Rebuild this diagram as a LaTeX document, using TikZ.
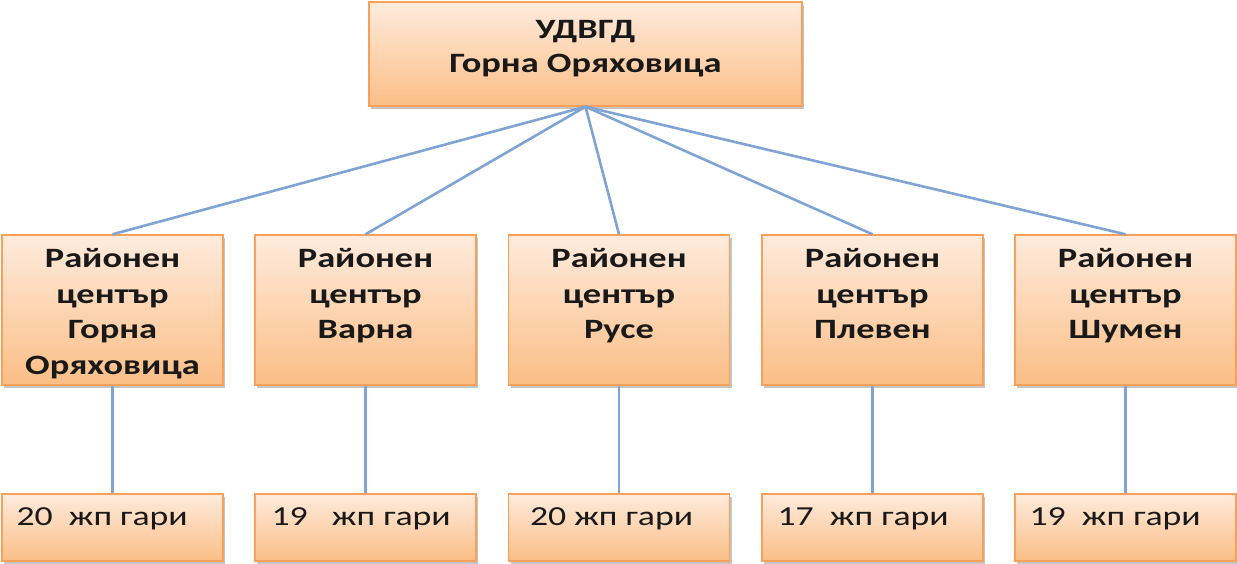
\documentclass[tikz,border=0pt]{standalone}
\usepackage{fontspec}
\setmainfont{Carlito}
\newfontfamily\cfont[FakeStretch=1.3]{Carlito}
\usetikzlibrary{shadows}
\definecolor{ptop}{HTML}{FEEBDD}
\definecolor{pbot}{HTML}{FBBE86}
\definecolor{pedge}{HTML}{F7A05A}
\definecolor{linkc}{HTML}{7FA3D3}
\begin{document}
\begin{tikzpicture}[x=1pt,y=-1pt,
  box/.style={draw=pedge, line width=1.4pt, top color=ptop, bottom color=pbot,
    inner sep=0pt, minimum width=221pt,
    drop shadow={shadow xshift=2pt, shadow yshift=-2.5pt, fill=black!45, opacity=0.5}},
  midbox/.style={box, minimum height=150pt},
  botbox/.style={box, minimum height=67pt},
  toptext/.style={font=\cfont\bfseries\fontsize{28}{34}\selectfont, align=center, inner sep=0pt, text=black!90},
  midtext/.style={font=\cfont\bfseries\fontsize{28}{35.5}\selectfont, align=center, inner sep=0pt, text=black!90},
  bottext/.style={font=\cfont\fontsize{27.5}{32}\selectfont, inner sep=0pt, text=black!90},
  link/.style={draw=linkc, line width=2.6pt}]
\useasboundingbox (0,0) rectangle (1237,563);

\node[box, minimum width=433pt, minimum height=104pt] (top) at (585.5,54) {};

\node[midbox] (m1) at (112.5,310) {};
\node[midbox] (m2) at (365.5,310) {};
\node[midbox] (m3) at (619,310) {};
\node[midbox] (m4) at (872.5,310) {};
\node[midbox] (m5) at (1125.5,310) {};

\node[botbox] (b1) at (112.5,527.5) {};
\node[botbox] (b2) at (365.5,527.5) {};
\node[botbox] (b3) at (619,527.5) {};
\node[botbox] (b4) at (872.5,527.5) {};
\node[botbox] (b5) at (1125.5,527.5) {};

\foreach \i in {1,...,5} {
  \draw[link] (top.south) -- (m\i.north);
  \draw[link] (m\i.south) -- (b\i.north);
}

\node[toptext, anchor=north] (tt) at ([yshift=-19pt]top.north) {УДВГД\\Горна Оряховица};

\node[midtext, anchor=north] (t1) at ([yshift=-14pt]m1.north) {Районен\\център\\Горна\\Оряховица};
\node[midtext, anchor=north] (t2) at ([yshift=-14pt]m2.north) {Районен\\център\\Варна};
\node[midtext, anchor=north] (t3) at ([yshift=-14pt]m3.north) {Районен\\център\\Русе};
\node[midtext, anchor=north] (t4) at ([yshift=-14pt]m4.north) {Районен\\център\\Плевен};
\node[midtext, anchor=north] (t5) at ([yshift=-14pt]m5.north) {Районен\\център\\Шумен};

\node[bottext, anchor=base west] (s1) at ([xshift=15pt,yshift=2pt]b1.west) {20\ \ жп гари};
\node[bottext, anchor=base west] (s2) at ([xshift=17pt,yshift=2pt]b2.west) {19\ \ \ жп гари};
\node[bottext, anchor=base west] (s3) at ([xshift=22pt,yshift=2pt]b3.west) {20 жп гари};
\node[bottext, anchor=base west] (s4) at ([xshift=16pt,yshift=2pt]b4.west) {17\ \ жп гари};
\node[bottext, anchor=base west] (s5) at ([xshift=15pt,yshift=2pt]b5.west) {19\ \ жп гари};
\end{tikzpicture}
\end{document}
